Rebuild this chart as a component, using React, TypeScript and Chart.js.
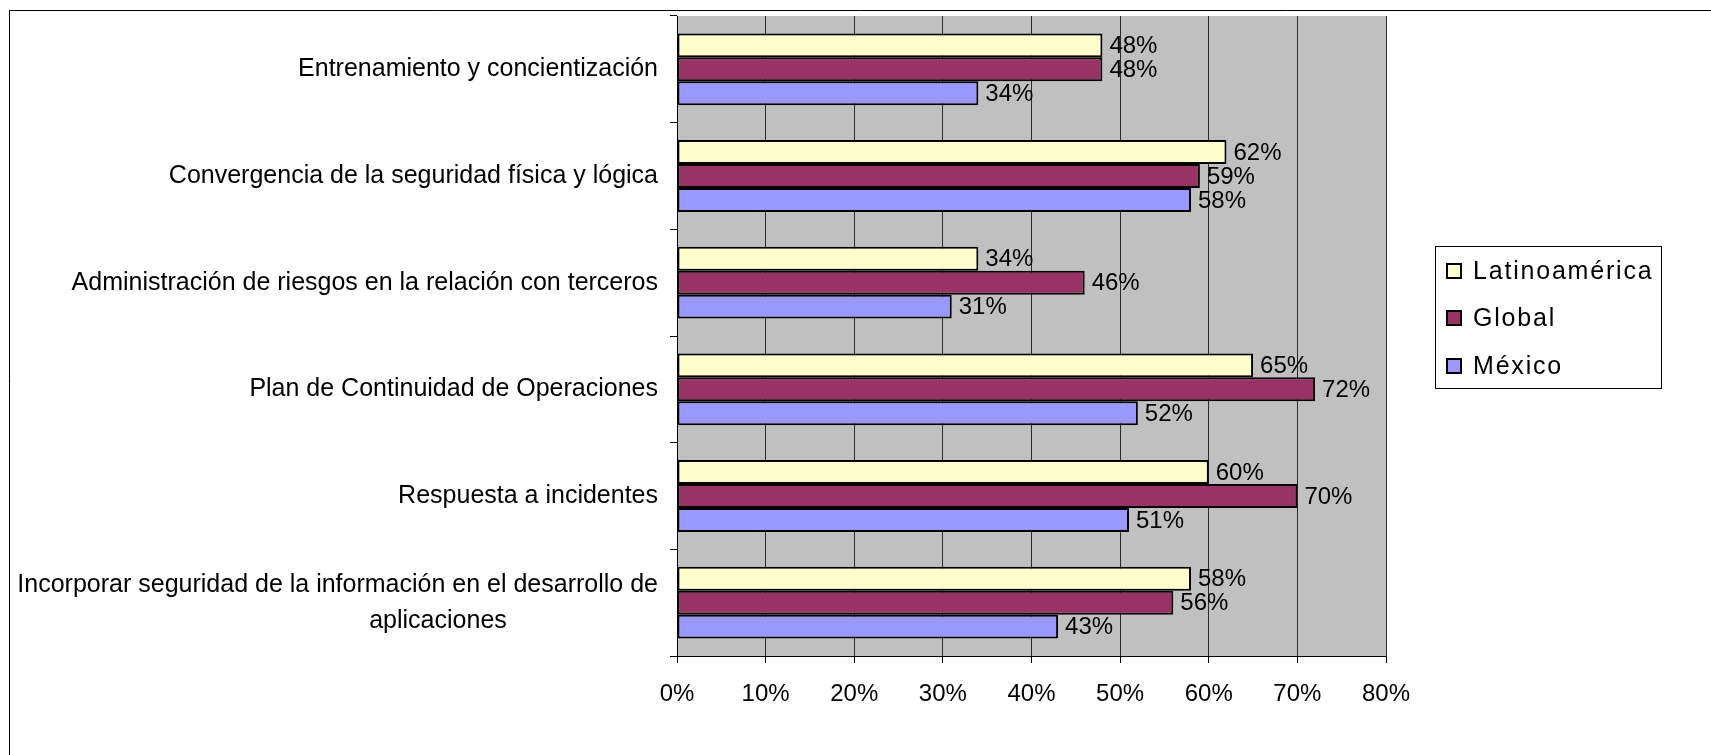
import React, { useEffect, useRef } from 'react';
import { Chart, registerables } from 'chart.js';

Chart.register(...registerables);

const categories: (string | string[])[] = [
  'Entrenamiento y concientización',
  'Convergencia de la seguridad física y lógica',
  'Administración de riesgos en la relación con terceros',
  'Plan de Continuidad de Operaciones',
  'Respuesta a incidentes',
  ['Incorporar seguridad de la información en el desarrollo de', 'aplicaciones'],
];

const seriesNames = ['Latinoamérica', 'Global', 'México'];
const latinoamerica = [48, 62, 34, 65, 60, 58];
const globalValues = [48, 59, 46, 72, 70, 56];
const mexico = [34, 58, 31, 52, 51, 43];
const seriesColors = ['#FFFFCC', '#993366', '#9999FF'];

const xMin = 0;
const xMax = 80;
const xStep = 10;

const FONT = "'Liberation Sans', Arial, sans-serif";

export default function App() {
  const ref = useRef<HTMLCanvasElement | null>(null);

  useEffect(() => {
    const canvas = ref.current;
    if (!canvas) return;

    const frame = {
      id: 'frame',
      beforeDraw(chart: any) {
        const { ctx, chartArea } = chart;
        ctx.save();
        ctx.fillStyle = '#FFFFFF';
        ctx.fillRect(0, 0, chart.width, chart.height);
        ctx.strokeStyle = '#000000';
        ctx.lineWidth = 1;
        ctx.beginPath();
        ctx.moveTo(9.5, chart.height + 2);
        ctx.lineTo(9.5, 10.5);
        ctx.lineTo(chart.width + 2, 10.5);
        ctx.stroke();
        ctx.fillStyle = '#C0C0C0';
        ctx.fillRect(chartArea.left, chartArea.top, chartArea.right - chartArea.left, chartArea.bottom - chartArea.top);
        ctx.restore();
      },
    };

    const yLabels = {
      id: 'yLabels',
      afterDraw(chart: any) {
        const { ctx } = chart;
        const ys = chart.scales.y;
        const right = ys.right - 19;
        ctx.save();
        ctx.fillStyle = '#000000';
        ctx.font = `25px ${FONT}`;
        ctx.textBaseline = 'middle';
        categories.forEach((lab, i) => {
          const y = ys.getPixelForValue(i);
          if (Array.isArray(lab)) {
            const lh = 36;
            const y0 = y - (lh * (lab.length - 1)) / 2;
            lab.forEach((line, j) => {
              if (j === 0) {
                ctx.textAlign = 'right';
                ctx.fillText(line, right, y0 + j * lh);
              } else {
                ctx.textAlign = 'center';
                ctx.fillText(line, right - 220, y0 + j * lh);
              }
            });
          } else {
            ctx.textAlign = 'right';
            ctx.fillText(lab, right, y);
          }
        });
        ctx.restore();
      },
    };

    const dataLabels = {
      id: 'dataLabels',
      afterDatasetsDraw(chart: any) {
        const { ctx } = chart;
        ctx.save();
        ctx.fillStyle = '#000000';
        ctx.font = `24px ${FONT}`;
        ctx.textAlign = 'left';
        ctx.textBaseline = 'middle';
        chart.data.datasets.forEach((ds: any, di: number) => {
          const meta = chart.getDatasetMeta(di);
          meta.data.forEach((bar: any, i: number) => {
            ctx.fillText(`${ds.data[i]}%`, bar.x + 7, bar.y + 1);
          });
        });
        ctx.restore();
      },
    };

    const legendBox = {
      id: 'legendBox',
      afterDraw(chart: any) {
        const { ctx } = chart;
        const bx = 1435.5, by = 246.5, bw = 226, bh = 142;
        ctx.save();
        ctx.strokeStyle = '#000000';
        ctx.lineWidth = 1;
        ctx.strokeRect(bx, by, bw, bh);
        ctx.font = `25px ${FONT}`;
        ctx.textAlign = 'left';
        ctx.textBaseline = 'middle';
        try { (ctx as any).letterSpacing = '1.8px'; } catch (e) { /* ignore */ }
        const rows = [271, 318, 366];
        chart.data.datasets.forEach((ds: any, i: number) => {
          const cy = rows[i];
          ctx.fillStyle = ds.backgroundColor;
          ctx.fillRect(1447, cy - 7, 14, 14);
          ctx.lineWidth = 2;
          ctx.strokeStyle = '#000000';
          ctx.strokeRect(1447, cy - 7, 14, 14);
          ctx.fillStyle = '#000000';
          ctx.fillText(ds.label, 1473, cy + 1);
        });
        ctx.restore();
      },
    };

    const values = [latinoamerica, globalValues, mexico];

    const chart = new Chart(canvas, {
      type: 'bar',
      data: {
        labels: categories as any,
        datasets: seriesNames.map((name, i) => ({
          label: name,
          data: values[i],
          backgroundColor: seriesColors[i],
          borderColor: '#000000',
          borderWidth: 2,
          borderSkipped: false,
          categoryPercentage: 0.673,
          barPercentage: 1.0,
        })),
      },
      options: {
        indexAxis: 'y',
        responsive: false,
        animation: false,
        devicePixelRatio: 1,
        layout: { padding: { left: 0, top: 16, right: 325, bottom: 0 } },
        plugins: {
          legend: { display: false },
          tooltip: { enabled: false },
          title: { display: false },
        },
        scales: {
          x: {
            type: 'linear',
            position: 'bottom',
            min: xMin,
            max: xMax,
            ticks: {
              stepSize: xStep,
              callback: (v: any) => `${v}%`,
              font: { family: FONT, size: 24 },
              color: '#000000',
              padding: 17,
              maxRotation: 0,
            },
            grid: {
              display: true,
              drawOnChartArea: true,
              drawTicks: true,
              tickLength: 7,
              color: '#2a2a2a',
              tickColor: '#000000',
              lineWidth: 1,
            },
            border: { display: true, color: '#000000', width: 1 },
            afterFit: (s: any) => { s.height = 99; },
          },
          y: {
            type: 'category',
            position: 'left',
            ticks: { display: false },
            grid: {
              display: true,
              drawOnChartArea: false,
              drawTicks: true,
              tickLength: 7,
              color: '#000000',
              offset: true,
            },
            border: { display: true, color: '#000000', width: 1 },
            afterFit: (s: any) => { s.width = 677; },
          },
        },
      },
      plugins: [frame, yLabels, dataLabels, legendBox],
    } as any);

    return () => chart.destroy();
  }, []);

  return (
    <div style={{ position: 'absolute', left: 0, top: 0, width: 1711, height: 755 }}>
      <canvas ref={ref} width={1711} height={755} style={{ width: 1711, height: 755, display: 'block' }} />
    </div>
  );
}
